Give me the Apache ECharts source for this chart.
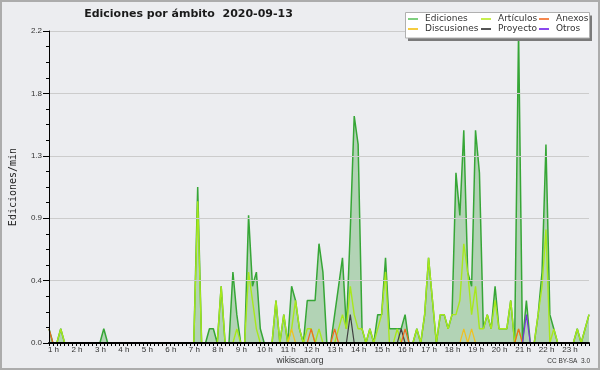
<!DOCTYPE html>
<html><head><meta charset="utf-8">
<script src="https://cdn.jsdelivr.net/npm/echarts@6/dist/echarts.min.js"></script>
<style>html,body{margin:0;padding:0;background:#ecedf0}#c{width:600px;height:370px}</style>
</head><body><div id="c"></div>
<script>
const hourLabels = ['1 h','2 h','3 h','4 h','5 h','6 h','7 h','8 h','9 h','10 h','11 h','12 h',
  '13 h','14 h','15 h','16 h','17 h','18 h','19 h','20 h','21 h','22 h','23 h'];

// 10-minute samples, edits per minute
const ediciones = [
  0.1,0,0,0.1,0,0,0,0,0,0,
  0,0,0,0,0.1,0,0,0,0,0,
  0,0,0,0,0,0,0,0,0,0,
  0,0,0,0,0,0,0,0,1.1,0,
  0,0.1,0.1,0,0.4,0,0,0.5,0.2,0,
  0,0.9,0.4,0.5,0.1,0,0,0,0.3,0,
  0.2,0,0.4,0.3,0.1,0,0.3,0.3,0.3,0.7,
  0.5,0,0,0.2,0.4,0.6,0.1,0.8,1.6,1.4,
  0.1,0,0.1,0,0.2,0.2,0.6,0.1,0.1,0.1,
  0.1,0.2,0,0,0.1,0,0.2,0.6,0.3,0,
  0.2,0.2,0.1,0.2,1.2,0.9,1.5,0.5,0.4,1.5,
  1.2,0.1,0.2,0.1,0.4,0.1,0.1,0.1,0.3,0,
  2.2,0,0.3,0,0,0.2,0.5,1.4,0.2,0.1,
  0,0,0,0,0,0.1,0,0.1,0.2
];
const articulos = [
  0,0,0,0.1,0,0,0,0,0,0,
  0,0,0,0,0,0,0,0,0,0,
  0,0,0,0,0,0,0,0,0,0,
  0,0,0,0,0,0,0,0,1.0,0,
  0,0,0,0,0.4,0,0,0,0.1,0,
  0,0.5,0.3,0.1,0,0,0,0,0.3,0,
  0.2,0,0.1,0.3,0.1,0,0.1,0.1,0,0.1,
  0,0,0,0,0.1,0.2,0.1,0.4,0.2,0.1,
  0.1,0,0.1,0,0.1,0.2,0.5,0,0,0.1,
  0,0,0,0,0.1,0,0.2,0.6,0.3,0,
  0.2,0.2,0.1,0.2,0.2,0.3,0.7,0.5,0.2,0.4,
  0.1,0.1,0.2,0.1,0.3,0.1,0.1,0.1,0.3,0,
  0.1,0,0,0,0,0.2,0.4,0.8,0,0.1,
  0,0,0,0,0,0.1,0,0.1,0.2
];
// sparse namespaces: sample index -> value
const discusionesAt = [62,106,108];
const discusionesVal = [0.1,0.1,0.1];
const proyectoAt = [77,90];
const proyectoVal = [0.2,0.1];
const anexosAt = [0,67,73,91,120];
const anexosVal = [0.1,0.1,0.1,0.1,0.1];
const otrosAt = [122];
const otrosVal = [0.2];

const N = ediciones.length;
const categories = [];
for (let i = 0; i < N; i++) categories.push((1 + Math.floor(i / 6)) + ':' + (i % 6) + '0');
function sparse(at, val) { const a = new Array(N).fill(0); at.forEach((k, j) => { a[k] = val[j]; }); return a; }

const FS = 'DejaVu Sans';
const FL = 'Liberation Sans';

function lineSeries(name, data, color, legendColor, width) {
  return {
    name, type: 'line', data, symbol: 'none', showSymbol: false, animation: false,
    lineStyle: { color, width: width || 1.4 },
    itemStyle: { color: legendColor },
    emphasis: { disabled: true }
  };
}

const edSeries = lineSeries('Ediciones', ediciones, '#36a636', '#7fcf7f', 1.5);
edSeries.areaStyle = { color: 'rgba(40,150,40,0.42)', origin: 'start' };

const legendCommon = {
  orient: 'vertical', padding: 0, itemGap: 0, itemWidth: 10, itemHeight: 2, icon: 'rect',
  selectedMode: false, z: 20,
  textStyle: { fontFamily: FS, fontSize: 9, color: '#333', lineHeight: 10, padding: [0, 0, 0, 2] }
};

const chart = echarts.init(document.getElementById('c'), null, { renderer: 'canvas' });
chart.setOption({
  backgroundColor: '#ecedf0',
  animation: false,
  grid: { left: 46, right: 11, top: 31, bottom: 27, containLabel: false },
  xAxis: {
    type: 'category', data: categories, boundaryGap: false, z: 10,
    axisLine: { show: true, lineStyle: { color: '#000', width: 2 } },
    axisTick: { show: true, interval: 0, length: 3, lineStyle: { color: '#000' } },
    axisLabel: {
      interval: 5, fontFamily: FL, fontSize: 8, color: '#333', margin: 3,
      align: 'center', padding: [0, 0, 0, 9],
      formatter: (v, idx) => (idx % 6 === 0 && idx / 6 < hourLabels.length) ? hourLabels[idx / 6] : ''
    },
    splitLine: { show: false }
  },
  yAxis: {
    type: 'value', min: 0, max: 2.2, interval: 0.44, z: 10,
    name: 'Ediciones/min', nameLocation: 'middle', nameGap: 31, nameRotate: 90,
    nameTextStyle: { fontFamily: 'DejaVu Sans Mono', fontSize: 10, color: '#222' },
    axisLine: { show: true, lineStyle: { color: '#000', width: 1 } },
    axisTick: { show: true, length: 6, lineStyle: { color: '#000' } },
    minorTick: { show: true, splitNumber: 4, length: 3, lineStyle: { color: '#000' } },
    axisLabel: { fontFamily: FL, fontSize: 8, color: '#333', margin: 7, formatter: v => v.toFixed(1) },
    splitLine: { show: true, lineStyle: { color: '#cccccc', width: 1 } }
  },
  legend: [
    Object.assign({ left: 408, top: 14, data: [
      { name: 'Ediciones', itemStyle: { color: '#7fcf7f' } },
      { name: 'Discusiones', itemStyle: { color: '#f5cc40' } }] }, legendCommon),
    Object.assign({ left: 481, top: 14, data: [
      { name: 'Artículos', itemStyle: { color: '#c6ee4e' } },
      { name: 'Proyecto', itemStyle: { color: '#555555' } }] }, legendCommon),
    Object.assign({ left: 539, top: 14, data: [
      { name: 'Anexos', itemStyle: { color: '#f5874e' } },
      { name: 'Otros', itemStyle: { color: '#8a48ee' } }] }, legendCommon)
  ],
  graphic: [
    { type: 'rect', z: 100, silent: true, shape: { x: 1, y: 1, width: 598, height: 368 },
      style: { fill: 'none', stroke: '#acacac', lineWidth: 2 } },
    { type: 'rect', z: 15, silent: true, shape: { x: 408, y: 15.5, width: 184, height: 25.5 },
      style: { fill: '#7a7a7a' } },
    { type: 'rect', z: 16, silent: true, shape: { x: 405.5, y: 12.5, width: 184, height: 25.5 },
      style: { fill: '#ffffff', stroke: '#b0b0b0', lineWidth: 1 } },
    { type: 'text', z: 30, silent: true, x: 188.5, y: 14,
      style: { text: 'Ediciones por ámbito  2020-09-13', fill: '#1a1a1a', font: 'bold 11px "DejaVu Sans"',
        textAlign: 'center', textVerticalAlign: 'middle' } },
    { type: 'text', z: 30, silent: true, x: 300, y: 361,
      style: { text: 'wikiscan.org', fill: '#333', font: '8.5px "Liberation Sans"',
        textAlign: 'center', textVerticalAlign: 'middle' } },
    { type: 'text', z: 30, silent: true, x: 590, y: 361,
      style: { text: 'CC BY-SA  3.0', fill: '#333', font: '6.5px "Liberation Sans"',
        textAlign: 'right', textVerticalAlign: 'middle' } }
  ],
  series: [
    edSeries,
    lineSeries('Artículos', articulos, '#a8e81c', '#c6ee4e', 1.4),
    lineSeries('Discusiones', sparse(discusionesAt, discusionesVal), '#f0c020', '#f5cc40', 1.2),
    lineSeries('Proyecto', sparse(proyectoAt, proyectoVal), '#404040', '#555555', 1.2),
    lineSeries('Anexos', sparse(anexosAt, anexosVal), '#f06a20', '#f5874e', 1.2),
    lineSeries('Otros', sparse(otrosAt, otrosVal), '#7a30e0', '#8a48ee', 1.2)
  ]
});
</script></body></html>
